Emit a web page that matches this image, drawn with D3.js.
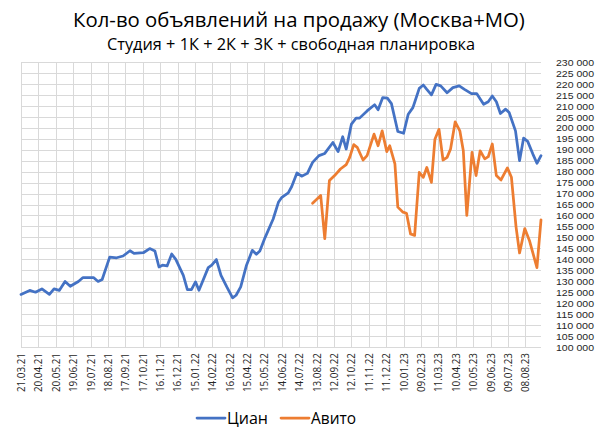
<!DOCTYPE html>
<html>
<head>
<meta charset="utf-8">
<script src="https://cdn.jsdelivr.net/npm/d3@7"></script>
<style>
  html, body { margin: 0; padding: 0; background: #fff; }
  svg { display: block; font-family: "Open Sans", "Noto Sans", sans-serif; }
</style>
</head>
<body>
<svg id="chart" width="597" height="435"></svg>
<script>
const TITLE = "Кол-во объявлений на продажу (Москва+МО)";
const SUBTITLE = "Студия + 1К + 2К + 3К + свободная планировка";
const SERIES_NAMES = ["Циан", "Авито"];

const cianDates = [
    "2021-03-21", "2021-04-05", "2021-04-15", "2021-04-26", "2021-05-09", "2021-05-17", "2021-05-26",
    "2021-06-05", "2021-06-14", "2021-06-28", "2021-07-06", "2021-07-24", "2021-08-01", "2021-08-08",
    "2021-08-21", "2021-09-02", "2021-09-13", "2021-09-25", "2021-10-02", "2021-10-18", "2021-10-29",
    "2021-11-07", "2021-11-14", "2021-11-20", "2021-11-28", "2021-12-06", "2021-12-13", "2021-12-26",
    "2022-01-02", "2022-01-09", "2022-01-16", "2022-01-22", "2022-02-07", "2022-02-13", "2022-02-21",
    "2022-03-01", "2022-03-11", "2022-03-21", "2022-03-27", "2022-04-04", "2022-04-14", "2022-04-24",
    "2022-05-01", "2022-05-07", "2022-05-16", "2022-05-30", "2022-06-08", "2022-06-14", "2022-06-25",
    "2022-07-01", "2022-07-10", "2022-07-18", "2022-07-28", "2022-08-06", "2022-08-17", "2022-08-27",
    "2022-09-10", "2022-09-19", "2022-09-27", "2022-10-03", "2022-10-12", "2022-10-20", "2022-10-26",
    "2022-11-08", "2022-11-21", "2022-11-27", "2022-12-05", "2022-12-13", "2022-12-20", "2022-12-31",
    "2023-01-10", "2023-01-18", "2023-01-26", "2023-01-29", "2023-02-06", "2023-02-13", "2023-02-19",
    "2023-02-27", "2023-03-07", "2023-03-15", "2023-03-26", "2023-04-05", "2023-04-16", "2023-04-25",
    "2023-05-07", "2023-05-16", "2023-05-28", "2023-06-05", "2023-06-12", "2023-06-19", "2023-06-26",
    "2023-07-05", "2023-07-11", "2023-07-22", "2023-07-29", "2023-08-05", "2023-08-12", "2023-08-21",
    "2023-08-28", "2023-09-04"
];
const cianValues = [
    124000, 125800, 125000, 126500, 124000, 126500, 125800,
    129900, 127700, 129900, 131700, 131700, 129900, 130800,
    141000, 140700, 141500, 143900, 142700, 143000, 144900,
    143800, 136500, 137300, 137000, 142400, 140000, 132700,
    126200, 126200, 129700, 125900, 136200, 137300, 139900,
    132700, 127400, 122400, 123600, 127400, 137300, 144100,
    142300, 143800, 149900, 158400, 166000, 168300, 170300,
    173200, 179400, 177900, 179200, 184200, 187300, 188300,
    193300, 189100, 195900, 190300, 201700, 204400, 204400,
    207700, 210500, 208200, 213800, 213500, 211000, 198300,
    197500, 206200, 209200, 211500, 218000, 219500, 217500,
    215000, 219800, 219100, 216000, 218300, 219100, 217500,
    215600, 215600, 210700, 211900, 214500, 211900, 206500,
    208500, 207000, 198600, 185000, 195300, 193800, 188000,
    183800, 187300
];

const avitoDates = [
    "2022-08-06", "2022-08-20", "2022-08-27", "2022-09-04", "2022-09-13", "2022-09-23", "2022-10-03",
    "2022-10-09", "2022-10-16", "2022-10-22", "2022-11-01", "2022-11-08", "2022-11-20", "2022-11-27",
    "2022-12-04", "2022-12-12", "2022-12-17", "2022-12-26", "2022-12-31", "2023-01-09", "2023-01-15",
    "2023-01-22", "2023-01-29", "2023-02-06", "2023-02-13", "2023-02-19", "2023-02-27", "2023-03-05",
    "2023-03-12", "2023-03-19", "2023-03-26", "2023-04-01", "2023-04-09", "2023-04-17", "2023-04-23",
    "2023-04-29", "2023-05-08", "2023-05-15", "2023-05-22", "2023-05-30", "2023-06-05", "2023-06-12",
    "2023-06-19", "2023-06-27", "2023-07-08", "2023-07-15", "2023-07-23", "2023-07-29", "2023-08-07",
    "2023-08-15", "2023-08-28", "2023-09-04"
];
const avitoValues = [
    165600, 169100, 149400, 175900, 178200, 181200, 183200,
    186500, 192300, 191100, 185300, 187300, 197100, 191800,
    198600, 189100, 191800, 183500, 163800, 161500, 161000,
    151600, 150900, 179700, 177400, 181900, 175100, 194800,
    199300, 185300, 186500, 190300, 202700, 198600, 189500,
    160000, 188800, 178200, 189500, 185800, 186800, 192600,
    178200, 176200, 181700, 177400, 154700, 142900, 154000,
    148600, 136200, 158000
];

const Y_MIN = 100000;
const Y_MAX = 230000;
const Y_STEP = 5000;
const X_TICK_DAYS = 30;
const X_START = "2021-03-21";
const X_END = "2023-09-04";

const COLORS = ["#4472c4", "#ed7d31"];
const GRID = "#d9d9d9";
const TEXT = "#262626";

const PLOT_LEFT = 21;
const PLOT_RIGHT = 541;
const PLOT_TOP = 62;
const PLOT_BOTTOM = 347;

const parse = d3.utcParse("%Y-%m-%d");
const fmtDate = d3.utcFormat("%d.%m.%y");
const fmtNum = (v) => d3.format(",")(v).replace(/,/g, " ");

// shrink/grow the font size of a text so it fills the measured width
function fitWidth(sel, target) {
    sel.each(function() {
        const node = this;
        let size = parseFloat(d3.select(node).attr("font-size"));
        for (let i = 0; i < 3; i++) {
            const w = node.getComputedTextLength();
            size *= target / w;
            d3.select(node).attr("font-size", size.toFixed(2));
        }
    });
}

const svg = d3.select("#chart");

const x = d3.scaleUtc()
    .domain([parse(X_START), parse(X_END)])
    .range([PLOT_LEFT, PLOT_RIGHT]);
const y = d3.scaleLinear()
    .domain([Y_MIN, Y_MAX])
    .range([PLOT_BOTTOM, PLOT_TOP]);

const xTicks = d3.range(0, (parse(X_END) - parse(X_START)) / 864e5, X_TICK_DAYS)
    .map((d) => d3.utcDay.offset(parse(X_START), d));
const yTicks = d3.range(Y_MIN, Y_MAX + 1, Y_STEP);

// grid
const grid = svg.append("g").attr("class", "grid");
grid.selectAll("line.h").data(yTicks).join("line")
    .attr("class", "h")
    .attr("x1", PLOT_LEFT).attr("x2", PLOT_RIGHT)
    .attr("y1", (d) => Math.round(y(d)) + 0.5).attr("y2", (d) => Math.round(y(d)) + 0.5)
    .attr("stroke", GRID).attr("stroke-width", 1);
grid.selectAll("line.v").data(xTicks).join("line")
    .attr("class", "v")
    .attr("x1", (d) => Math.round(x(d)) + 0.5).attr("x2", (d) => Math.round(x(d)) + 0.5)
    .attr("y1", PLOT_TOP).attr("y2", PLOT_BOTTOM)
    .attr("stroke", GRID).attr("stroke-width", 1);

// right value axis: small, tight font so the 5 000 steps do not collide
const yAxis = svg.append("g")
    .attr("transform", `translate(594,0)`)
    .call(d3.axisRight(y).tickValues(yTicks).tickFormat(fmtNum).tickSize(0).tickPadding(0));
yAxis.select(".domain").remove();
yAxis.selectAll("text")
    .attr("text-anchor", "end")
    .attr("dy", "0.34em")
    .attr("fill", TEXT)
    .attr("font-family", "Liberation Sans")
    .attr("font-size", 9.4)
    .attr("textLength", 38)
    .attr("lengthAdjust", "spacingAndGlyphs");

// date axis, labels turned upright
const xAxis = svg.append("g")
    .attr("transform", `translate(0,${PLOT_BOTTOM})`)
    .call(d3.axisBottom(x).tickValues(xTicks).tickFormat(fmtDate).tickSize(0));
xAxis.select(".domain").remove();
xAxis.selectAll("text")
    .attr("transform", "rotate(-90)")
    .attr("text-anchor", "end")
    .attr("x", -6)
    .attr("y", 0)
    .attr("dy", "0.35em")
    .attr("fill", TEXT)
    .attr("font-family", "Open Sans")
    .attr("font-size", 10);
fitWidth(xAxis.selectAll("text").filter((d, i) => i === 0), 39);
xAxis.selectAll("text").attr("font-size", xAxis.select("text").attr("font-size"));

// lines
const series = [
    { name: SERIES_NAMES[0], color: COLORS[0], points: cianDates.map((d, i) => [parse(d), cianValues[i]]) },
    { name: SERIES_NAMES[1], color: COLORS[1], points: avitoDates.map((d, i) => [parse(d), avitoValues[i]]) }
];
const line = d3.line().x((d) => x(d[0])).y((d) => y(d[1]));
svg.append("g").selectAll("path").data(series).join("path")
    .attr("d", (s) => line(s.points))
    .attr("fill", "none")
    .attr("stroke", (s) => s.color)
    .attr("stroke-width", 2.75)
    .attr("stroke-linejoin", "round")
    .attr("stroke-linecap", "round");

// titles
const title = svg.append("text")
    .attr("x", 299).attr("y", 27)
    .attr("text-anchor", "middle")
    .attr("fill", "#000")
    .attr("font-size", 20)
    .text(TITLE);
fitWidth(title, 452);
const subtitle = svg.append("text")
    .attr("x", 291).attr("y", 50)
    .attr("text-anchor", "middle")
    .attr("fill", "#000")
    .attr("font-size", 14)
    .text(SUBTITLE);
fitWidth(subtitle, 368);

// legend
const legend = svg.append("g").attr("transform", "translate(0,418)");
const legendX = [197, 281];
const legendTextW = [41, 45];
series.forEach((s, i) => {
    const g = legend.append("g").attr("transform", `translate(${legendX[i]},0)`);
    g.append("line")
        .attr("x1", 0).attr("x2", 28)
        .attr("stroke", s.color).attr("stroke-width", 2.75)
        .attr("stroke-linecap", "round");
    const t = g.append("text")
        .attr("x", 30).attr("y", 5.5)
        .attr("fill", "#000")
        .attr("font-size", 15)
        .text(s.name);
    fitWidth(t, legendTextW[i]);
});
</script>
</body>
</html>
